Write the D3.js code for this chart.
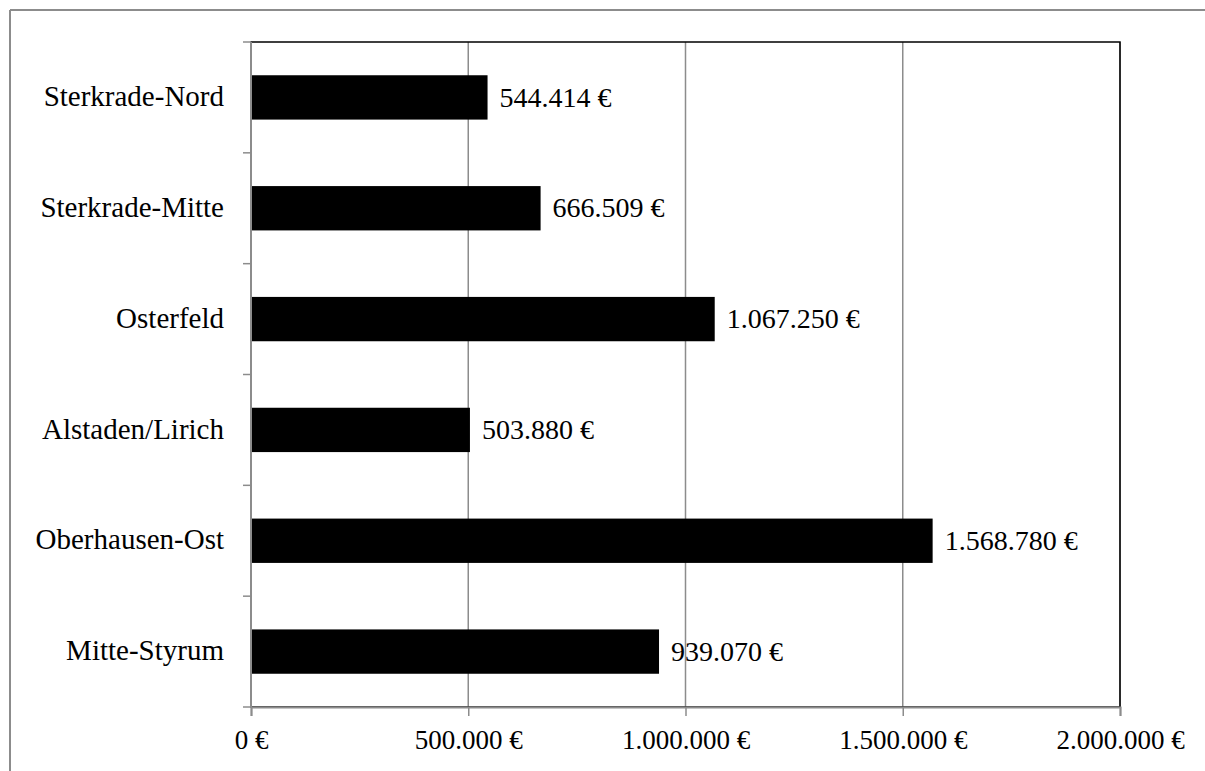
<!DOCTYPE html>
<html><head><meta charset="utf-8">
<script src="https://cdn.jsdelivr.net/npm/d3@7"></script>
<style>html,body{margin:0;background:#fff;overflow:hidden}svg{display:block}text{font-family:"Liberation Serif","Times New Roman",serif;fill:#000}</style>
</head><body><svg id="c" width="1205" height="771"></svg>
<script>
const categories = ["Sterkrade-Nord","Sterkrade-Mitte","Osterfeld","Alstaden/Lirich","Oberhausen-Ost","Mitte-Styrum"];
const values = [544414, 666509, 1067250, 503880, 1568780, 939070];
const tickValues = [0, 500000, 1000000, 1500000, 2000000];

const fmt = v => d3.format(",")(v).replace(/,/g, ".") + " €";
const svg = d3.select("#c");
const L = 251, R = 1120, T = 42, B = 707;

// outer chart frame (only top and left edges are visible)
svg.append("line").attr("x1", 10).attr("x2", 1205).attr("y1", 10).attr("y2", 10)
  .attr("stroke", "#8c8c8c").attr("stroke-width", 2);
svg.append("line").attr("x1", 10).attr("x2", 10).attr("y1", 10).attr("y2", 771)
  .attr("stroke", "#8c8c8c").attr("stroke-width", 2);

const x = d3.scaleLinear().domain([0, 2000000]).range([L, R]);
const y = d3.scaleBand().domain(categories).range([T, B]).paddingInner(0.6).paddingOuter(0.3);
const yb = d3.scaleBand().domain(categories).range([T, B]);

// gridlines
svg.append("g").selectAll("line").data(tickValues.slice(1)).join("line")
  .attr("x1", d => x(d)).attr("x2", d => x(d)).attr("y1", T).attr("y2", B)
  .attr("stroke", "#8c8c8c").attr("stroke-width", 1.5);

// plot border
svg.append("rect").attr("x", L).attr("y", T).attr("width", R - L).attr("height", B - T)
  .attr("fill", "none").attr("stroke", "#000").attr("stroke-width", 1.5);

// bars
svg.append("g").selectAll("rect").data(categories).join("rect")
  .attr("x", x(0)).attr("y", d => y(d)).attr("height", y.bandwidth())
  .attr("width", (d, i) => x(values[i]) - x(0)).attr("fill", "#000");

// value labels
svg.append("g").selectAll("text").data(categories).join("text")
  .attr("x", (d, i) => x(values[i]) + 12).attr("y", d => y(d) + y.bandwidth() / 2)
  .attr("dy", "0.33em").attr("font-size", 28).text((d, i) => fmt(values[i]));

// x axis
const xa = svg.append("g").attr("transform", `translate(0,${B})`)
  .call(d3.axisBottom(x).tickValues(tickValues).tickFormat(fmt).tickSize(9).tickPadding(14));
xa.select(".domain").attr("stroke", "#8c8c8c").attr("stroke-width", 2);
xa.selectAll(".tick line").attr("stroke", "#8c8c8c").attr("stroke-width", 1.5);
xa.selectAll(".tick text").attr("font-size", 27).attr("font-family", "Liberation Serif").attr("fill", "#000");

// y axis (ticks at band boundaries)
const ya = svg.append("g");
ya.append("line").attr("x1", L).attr("x2", L).attr("y1", T).attr("y2", B)
  .attr("stroke", "#8c8c8c").attr("stroke-width", 2);
const bounds = categories.map(c => yb(c)).concat([B]);
ya.selectAll("line.t").data(bounds).join("line").attr("class", "t")
  .attr("x1", L - 8).attr("x2", L).attr("y1", d => d).attr("y2", d => d)
  .attr("stroke", "#8c8c8c").attr("stroke-width", 1.5);
ya.selectAll("text").data(categories).join("text")
  .attr("x", L - 27).attr("y", d => yb(d) + yb.bandwidth() / 2).attr("dy", "0.3em")
  .attr("text-anchor", "end").attr("font-size", 29).text(d => d);
</script></body></html>
